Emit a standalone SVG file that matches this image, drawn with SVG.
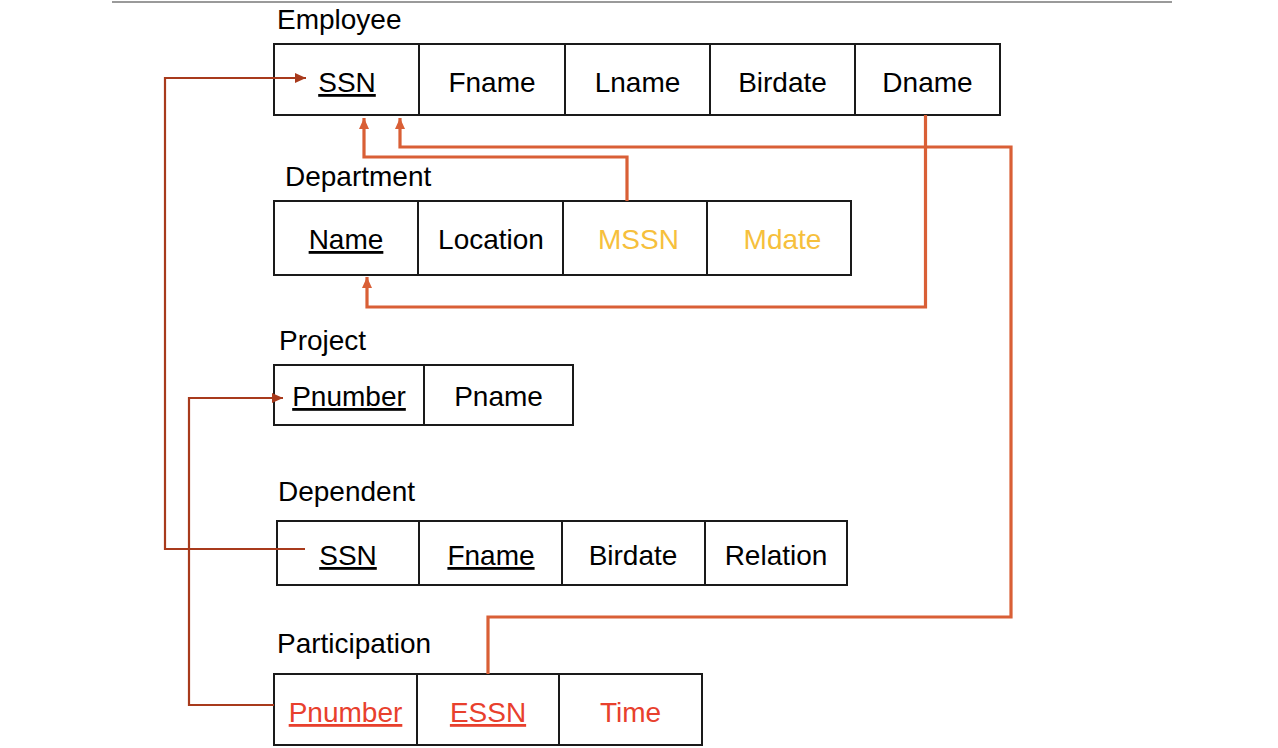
<svg xmlns="http://www.w3.org/2000/svg" width="1278" height="748" viewBox="0 0 1278 748">
<style>
text{font-family:"Liberation Sans",Arial,sans-serif;font-size:28px;fill:#000}
.c{text-anchor:middle}
.u{text-decoration:underline}
.y{fill:#F6C03C}
.r{fill:#E8402D}
.box{fill:#fff;stroke:#1a1a1a;stroke-width:2}
.dk{fill:none;stroke:#A83A1C;stroke-width:2.2}
.or{fill:none;stroke:#D95F36;stroke-width:3.2}
</style>
<defs>
<marker id="ad" markerUnits="userSpaceOnUse" markerWidth="12" markerHeight="10" refX="11" refY="5" orient="auto"><path d="M0,0 L11,5 L0,10 Z" fill="#A83A1C"/></marker>
<marker id="ao" markerUnits="userSpaceOnUse" markerWidth="12" markerHeight="10" refX="11" refY="5" orient="auto"><path d="M0,0 L11,5 L0,10 Z" fill="#D95F36"/></marker>
</defs>
<rect width="1278" height="748" fill="#fff"/>
<line x1="112" y1="2" x2="1172" y2="2" stroke="#9a9a9a" stroke-width="2"/>

<g id="employee">
<text x="277" y="29">Employee</text>
<rect class="box" x="274" y="44" width="726" height="71"/>
<line class="box" x1="419" y1="44" x2="419" y2="115"/>
<line class="box" x1="565" y1="44" x2="565" y2="115"/>
<line class="box" x1="710" y1="44" x2="710" y2="115"/>
<line class="box" x1="855" y1="44" x2="855" y2="115"/>
<text class="c u" x="347" y="92">SSN</text>
<text class="c" x="492" y="92">Fname</text>
<text class="c" x="637.5" y="92">Lname</text>
<text class="c" x="782.5" y="92">Birdate</text>
<text class="c" x="927.5" y="92">Dname</text>
</g>

<g id="department">
<text x="285" y="186">Department</text>
<rect class="box" x="274" y="201" width="577" height="74"/>
<line class="box" x1="418" y1="201" x2="418" y2="275"/>
<line class="box" x1="563" y1="201" x2="563" y2="275"/>
<line class="box" x1="707" y1="201" x2="707" y2="275"/>
<text class="c u" x="346" y="249">Name</text>
<text class="c" x="491" y="249">Location</text>
<text class="c y" x="638.5" y="249">MSSN</text>
<text class="c y" x="782.5" y="249">Mdate</text>
</g>

<g id="project">
<text x="279" y="350">Project</text>
<rect class="box" x="274" y="365" width="299" height="60"/>
<line class="box" x1="424" y1="365" x2="424" y2="425"/>
<text class="c u" x="349" y="406">Pnumber</text>
<text class="c" x="498.5" y="406">Pname</text>
</g>

<g id="dependent">
<text x="278" y="501">Dependent</text>
<rect class="box" x="277" y="521" width="570" height="64"/>
<line class="box" x1="419" y1="521" x2="419" y2="585"/>
<line class="box" x1="562" y1="521" x2="562" y2="585"/>
<line class="box" x1="705" y1="521" x2="705" y2="585"/>
<text class="c u" x="348" y="565">SSN</text>
<text class="c u" x="491" y="565">Fname</text>
<text class="c" x="633" y="565">Birdate</text>
<text class="c" x="776" y="565">Relation</text>
</g>

<g id="participation">
<text x="277" y="653">Participation</text>
<rect class="box" x="274" y="674" width="428" height="71"/>
<line class="box" x1="417" y1="674" x2="417" y2="745"/>
<line class="box" x1="559" y1="674" x2="559" y2="745"/>
<text class="c u r" x="345.5" y="722">Pnumber</text>
<text class="c u r" x="488" y="722">ESSN</text>
<text class="c r" x="630.5" y="722">Time</text>
</g>

<g id="connectors">
<path class="dk" d="M305,549 H165 V78 H306" marker-end="url(#ad)"/>
<path class="dk" d="M274,705 H189 V398 H283" marker-end="url(#ad)"/>
<path class="or" d="M627,201 V157 H364 V118" marker-end="url(#ao)"/>
<path class="or" d="M488,674 V617 H1011 V147 H400 V118" marker-end="url(#ao)"/>
<path class="or" d="M925.5,115 V307 H367 V277" marker-end="url(#ao)"/>
</g>
</svg>
